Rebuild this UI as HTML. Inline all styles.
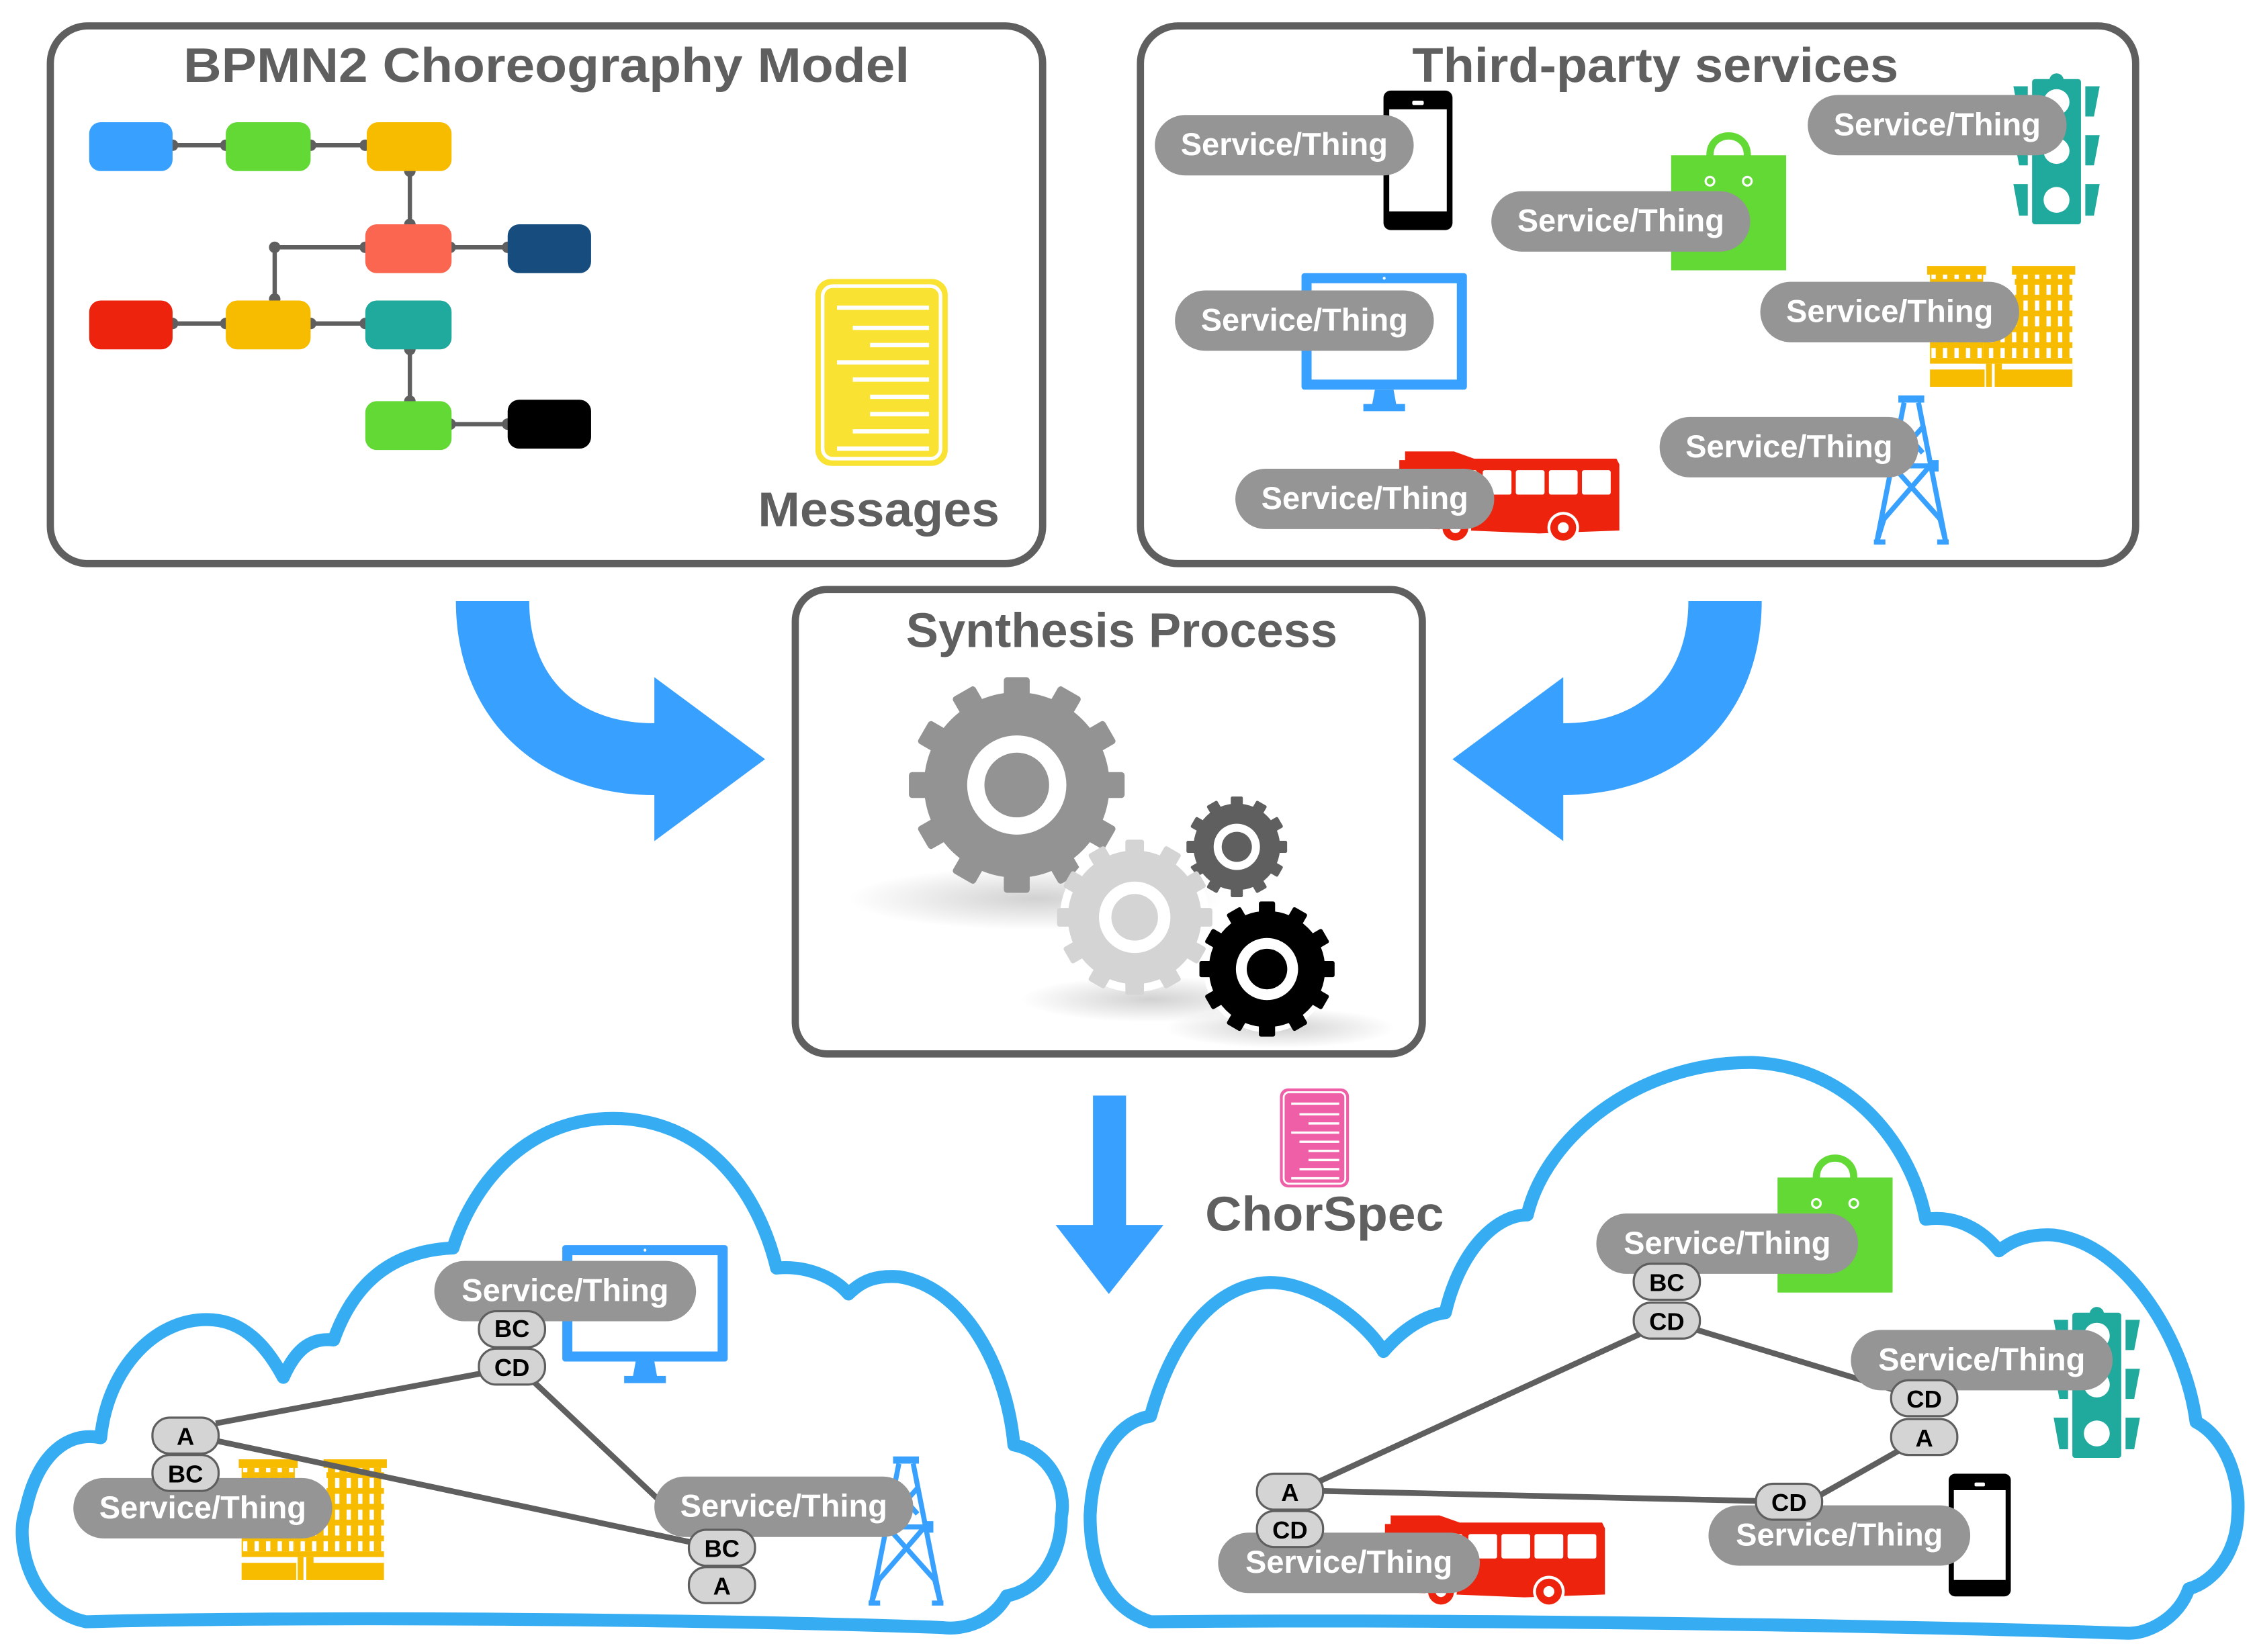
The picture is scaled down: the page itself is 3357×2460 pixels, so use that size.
<!DOCTYPE html>
<html><head><meta charset="utf-8"><style>
html,body{margin:0;padding:0;background:#fff;}
svg{display:block;}
text{font-family:"Liberation Sans",sans-serif;font-weight:bold;}
</style></head><body>
<svg width="3357" height="2460" viewBox="0 0 1568 1149" xmlns="http://www.w3.org/2000/svg">
<defs>
  <radialGradient id="sh" cx="50%" cy="50%" r="50%">
    <stop offset="0" stop-color="#000" stop-opacity="0.18"/>
    <stop offset="1" stop-color="#000" stop-opacity="0"/>
  </radialGradient>
  <g id="gear">
    <circle r="0.86"/>
    <rect x="-0.12" y="-1" width="0.24" height="0.3" rx="0.03"/>
    <rect x="-0.12" y="-1" width="0.24" height="0.3" rx="0.03" transform="rotate(30)"/>
    <rect x="-0.12" y="-1" width="0.24" height="0.3" rx="0.03" transform="rotate(60)"/>
    <rect x="-0.12" y="-1" width="0.24" height="0.3" rx="0.03" transform="rotate(90)"/>
    <rect x="-0.12" y="-1" width="0.24" height="0.3" rx="0.03" transform="rotate(120)"/>
    <rect x="-0.12" y="-1" width="0.24" height="0.3" rx="0.03" transform="rotate(150)"/>
    <rect x="-0.12" y="-1" width="0.24" height="0.3" rx="0.03" transform="rotate(180)"/>
    <rect x="-0.12" y="-1" width="0.24" height="0.3" rx="0.03" transform="rotate(210)"/>
    <rect x="-0.12" y="-1" width="0.24" height="0.3" rx="0.03" transform="rotate(240)"/>
    <rect x="-0.12" y="-1" width="0.24" height="0.3" rx="0.03" transform="rotate(270)"/>
    <rect x="-0.12" y="-1" width="0.24" height="0.3" rx="0.03" transform="rotate(300)"/>
    <rect x="-0.12" y="-1" width="0.24" height="0.3" rx="0.03" transform="rotate(330)"/>
    <circle r="0.46" fill="#fff"/>
    <circle r="0.3"/>
  </g>
  <g id="phone">
    <rect x="0" y="0" width="48" height="97" rx="5" fill="#000"/>
    <rect x="4" y="13" width="40" height="71" fill="#fff"/>
    <rect x="20" y="7" width="8" height="3" rx="1" fill="#fff"/>
  </g>
  <g id="bag">
    <rect x="0" y="16" width="80" height="80" fill="#62d934"/>
    <path d="M27,34 L27,16 C27,-2 53,-2 53,16 L53,34" fill="none" stroke="#62d934" stroke-width="5"/>
    <circle cx="27" cy="34" r="3" fill="none" stroke="#fff" stroke-width="1.5"/>
    <circle cx="53" cy="34" r="3" fill="none" stroke="#fff" stroke-width="1.5"/>
  </g>
  <g id="light" fill="#20a99d">
    <circle cx="30" cy="4" r="5"/>
    <rect x="13" y="3" width="34" height="101" rx="2"/>
    <polygon points="0,8 10,8 10,29 4,29"/>
    <polygon points="0,42 10,42 10,63 4,63"/>
    <polygon points="0,76 10,76 10,98 4,98"/>
    <polygon points="50,8 60,8 56,29 50,29"/>
    <polygon points="50,42 60,42 56,63 50,63"/>
    <polygon points="50,76 60,76 56,98 50,98"/>
    <circle cx="30" cy="19" r="9" fill="#fff"/>
    <circle cx="30" cy="53" r="9" fill="#fff"/>
    <circle cx="30" cy="87" r="9" fill="#fff"/>
  </g>
  <g id="monitor">
    <rect x="0" y="0" width="115" height="81" rx="2" fill="#38a1ff"/>
    <rect x="7" y="7" width="101" height="67" fill="#fff"/>
    <circle cx="57.5" cy="3.5" r="1" fill="#fff"/>
    <polygon points="51,81 64,81 66,92 49,92" fill="#38a1ff"/>
    <rect x="43" y="91" width="29" height="5" fill="#38a1ff"/>
  </g>
  <pattern id="win" x="0" y="0" width="8" height="11" patternUnits="userSpaceOnUse">
    <rect width="8" height="11" fill="#f7bb00"/>
    <rect x="3" y="2" width="3" height="7" fill="#fff"/>
  </pattern>
  <g id="building">
    <rect x="0" y="0" width="41" height="6" fill="#f7bb00"/>
    <rect x="2" y="6" width="37" height="58" fill="url(#win)"/>
    <rect x="59" y="0" width="44" height="6" fill="#f7bb00"/>
    <rect x="61" y="6" width="40" height="58" fill="url(#win)"/>
    <rect x="39" y="28" width="22" height="36" fill="url(#win)"/>
    <rect x="2" y="64" width="99" height="4" fill="#f7bb00"/>
    <rect x="2" y="68" width="32" height="4" fill="#fff"/>
    <rect x="2" y="72" width="38" height="12" fill="#f7bb00"/>
    <rect x="41" y="68" width="4" height="16" fill="#f7bb00"/>
    <rect x="47" y="68" width="54" height="16" fill="#f7bb00"/>
    <rect x="52" y="68" width="49" height="4" fill="#fff"/>
  </g>
  <g id="bus">
    <path d="M3,6 L7,6 L7,0 L41,0 L55,5 L154,5 L156,9 L156,55 L100,57 L3,53 Z" fill="#ee230d"/>
    <rect x="14" y="13" width="20" height="17" rx="1.5" fill="#fff"/>
    <rect x="37" y="13" width="20" height="17" rx="1.5" fill="#fff"/>
    <rect x="61" y="13" width="20" height="17" rx="1.5" fill="#fff"/>
    <rect x="84" y="13" width="20" height="17" rx="1.5" fill="#fff"/>
    <rect x="107" y="13" width="20" height="17" rx="1.5" fill="#fff"/>
    <rect x="130" y="13" width="20" height="17" rx="1.5" fill="#fff"/>
    <circle cx="42" cy="53" r="11" fill="#fff"/>
    <circle cx="42" cy="53" r="9" fill="#ee230d"/>
    <circle cx="42" cy="53" r="3.8" fill="#fff"/>
    <circle cx="117" cy="53" r="11" fill="#fff"/>
    <circle cx="117" cy="53" r="9" fill="#ee230d"/>
    <circle cx="117" cy="53" r="3.8" fill="#fff"/>
  </g>
  <g id="tower" fill="none" stroke="#38a1ff" stroke-width="3.5">
    <rect x="18" y="0" width="18" height="5" fill="#38a1ff" stroke="none"/>
    <path d="M22,5 L3,102 M32,5 L51,102"/>
    <path d="M14,49 L42,49"/>
    <rect x="40" y="45" width="6" height="8" fill="#38a1ff" stroke="none"/>
    <path d="M19,22 L35,40 M35,22 L19,40"/>
    <path d="M14,49 L47,86 M40,49 L8,86"/>
    <path d="M8,86 L3,102 M47,86 L51,102 M1,102 L9,102 M45,102 L53,102"/>
  </g>
  <g id="doc">
    <rect x="0" y="0" width="92" height="130" rx="11" fill="currentColor"/>
    <rect x="5" y="5" width="82" height="120" rx="7" fill="none" stroke="#fff" stroke-width="2.5"/>
    <g stroke="#fff" stroke-width="3">
      <path d="M15,20 H79 M26,34 H79 M38,46 H79 M15,58 H79 M26,70 H79 M38,82 H79 M38,94 H79 M26,106 H79 M15,118 H79"/>
    </g>
  </g>
</defs>

<!-- Box 1 -->
<rect x="35" y="18" width="690" height="374" rx="26" fill="#fff" stroke="#5f5f5f" stroke-width="5"/>
<text x="380" y="57" text-anchor="middle" font-size="34" fill="#5f5f5f" textLength="505" lengthAdjust="spacingAndGlyphs">BPMN2 Choreography Model</text>
<g stroke="#5f5f5f" stroke-width="3" fill="none">
  <path d="M120,101 H157 M216,101 H254 M285,118 V157 M191,172 H254 M191,172 V208 M313,172 H353 M120,225 H157 M216,225 H254 M285,243 V279 M313,295 H353"/>
</g>
<g fill="#5f5f5f">
  <circle cx="120" cy="101" r="4"/><circle cx="157" cy="101" r="4"/><circle cx="216" cy="101" r="4"/><circle cx="254" cy="101" r="4"/>
  <circle cx="285" cy="119" r="4"/><circle cx="285" cy="156" r="4"/><circle cx="191" cy="172" r="4"/><circle cx="254" cy="172" r="4"/>
  <circle cx="313" cy="172" r="4"/><circle cx="353" cy="172" r="4"/><circle cx="191" cy="208" r="4"/>
  <circle cx="120" cy="225" r="4"/><circle cx="157" cy="225" r="4"/><circle cx="216" cy="225" r="4"/><circle cx="254" cy="225" r="4"/>
  <circle cx="285" cy="243" r="4"/><circle cx="285" cy="279" r="4"/><circle cx="313" cy="295" r="4"/><circle cx="353" cy="295" r="4"/>
</g>
<rect x="62" y="85" width="58" height="34" rx="8" fill="#38a1ff"/>
<rect x="157" y="85" width="59" height="34" rx="8" fill="#62d934"/>
<rect x="255" y="85" width="59" height="34" rx="8" fill="#f7bb00"/>
<rect x="254" y="156" width="60" height="34" rx="8" fill="#fb6650"/>
<rect x="353" y="156" width="58" height="34" rx="8" fill="#164d7e"/>
<rect x="62" y="209" width="58" height="34" rx="8" fill="#ee230d"/>
<rect x="157" y="209" width="59" height="34" rx="8" fill="#f7bb00"/>
<rect x="254" y="209" width="60" height="34" rx="8" fill="#20a99d"/>
<rect x="254" y="279" width="60" height="34" rx="8" fill="#62d934"/>
<rect x="353" y="278" width="58" height="34" rx="8" fill="#000"/>
<use href="#doc" x="567" y="194" color="#f9e232"/>
<text x="611" y="366" text-anchor="middle" font-size="34" fill="#5f5f5f" textLength="168" lengthAdjust="spacingAndGlyphs">Messages</text>

<!-- Box 2 -->
<rect x="793" y="18" width="692" height="374" rx="26" fill="#fff" stroke="#5f5f5f" stroke-width="5"/>
<text x="1151" y="57" text-anchor="middle" font-size="34" fill="#5f5f5f" textLength="338" lengthAdjust="spacingAndGlyphs">Third-party services</text>
<use href="#phone" x="962" y="63"/>
<use href="#bag" x="1162" y="92"/>
<use href="#light" x="1400" y="52"/>
<use href="#monitor" x="905" y="190"/>
<use href="#building" x="1340" y="185"/>
<use href="#bus" x="970" y="314"/>
<use href="#tower" x="1302" y="275"/>
<g font-size="22" fill="#fff">
  <rect x="803" y="80" width="180" height="42" rx="21" fill="#959595"/>
  <text x="893" y="108" text-anchor="middle" textLength="144" lengthAdjust="spacingAndGlyphs">Service/Thing</text>
  <rect x="1037" y="133" width="180" height="42" rx="21" fill="#959595"/>
  <text x="1127" y="161" text-anchor="middle" textLength="144" lengthAdjust="spacingAndGlyphs">Service/Thing</text>
  <rect x="1257" y="66" width="180" height="42" rx="21" fill="#959595"/>
  <text x="1347" y="94" text-anchor="middle" textLength="144" lengthAdjust="spacingAndGlyphs">Service/Thing</text>
  <rect x="817" y="202" width="180" height="42" rx="21" fill="#959595"/>
  <text x="907" y="230" text-anchor="middle" textLength="144" lengthAdjust="spacingAndGlyphs">Service/Thing</text>
  <rect x="1224" y="196" width="180" height="42" rx="21" fill="#959595"/>
  <text x="1314" y="224" text-anchor="middle" textLength="144" lengthAdjust="spacingAndGlyphs">Service/Thing</text>
  <rect x="859" y="326" width="180" height="42" rx="21" fill="#959595"/>
  <text x="949" y="354" text-anchor="middle" textLength="144" lengthAdjust="spacingAndGlyphs">Service/Thing</text>
  <rect x="1154" y="290" width="180" height="42" rx="21" fill="#959595"/>
  <text x="1244" y="318" text-anchor="middle" textLength="144" lengthAdjust="spacingAndGlyphs">Service/Thing</text>
</g>

<!-- Curved arrows -->
<path id="carrow" d="M317,418 L368,418 C368,470 400,503 455,503 L455,471 L532,528 L455,585 L455,553 C375,553 317,500 317,418 Z" fill="#38a1ff"/>
<use href="#carrow" transform="translate(1542,0) scale(-1,1)"/>

<!-- Synthesis box -->
<rect x="553" y="410" width="436" height="323" rx="22" fill="#fff" stroke="#5f5f5f" stroke-width="5"/>
<text x="780" y="450" text-anchor="middle" font-size="34" fill="#5f5f5f" textLength="300" lengthAdjust="spacingAndGlyphs">Synthesis Process</text>
<ellipse cx="720" cy="625" rx="130" ry="22" fill="url(#sh)"/>
<ellipse cx="800" cy="695" rx="90" ry="16" fill="url(#sh)"/>
<ellipse cx="890" cy="715" rx="80" ry="14" fill="url(#sh)"/>
<use href="#gear" transform="translate(707,546) scale(75)" fill="#939393"/>
<use href="#gear" transform="translate(860,589) scale(35)" fill="#5f5f5f"/>
<circle cx="789" cy="638" r="52" fill="#fff"/>
<use href="#gear" transform="translate(789,638) scale(54)" fill="#d4d4d4"/>
<circle cx="881" cy="674" r="44" fill="#fff"/>
<use href="#gear" transform="translate(881,674) scale(47)" fill="#000"/>

<!-- Down arrow -->
<rect x="760" y="762" width="23" height="92" fill="#38a1ff"/>
<polygon points="734,852 809,852 771,900" fill="#38a1ff"/>
<use href="#doc" transform="translate(890,757) scale(0.522,0.53)" color="#ef5fa7"/>
<text x="921" y="856" text-anchor="middle" font-size="34" fill="#5f5f5f" textLength="166" lengthAdjust="spacingAndGlyphs">ChorSpec</text>

<!-- Left cloud -->
<path d="M60,1128 C20,1120 10,1070 18,1050 C25,1015 45,995 70,1000 C75,950 110,915 148,918 C175,920 190,945 197,958 C205,940 215,930 232,932 C245,895 270,870 315,868 C330,820 370,775 432,778 C500,782 530,840 540,882 C560,880 580,888 590,900 C600,890 610,887 625,888 C670,895 700,950 705,1005 C730,1010 742,1035 738,1055 C738,1080 725,1105 700,1110 C690,1128 670,1134 655,1132 C500,1126 200,1124 60,1128 Z" fill="#fff" stroke="#36adf2" stroke-width="9" stroke-linejoin="round"/>
<use href="#monitor" x="391" y="866"/>
<use href="#building" x="166" y="1015"/>
<use href="#tower" x="603" y="1013"/>
<g stroke="#5f5f5f" stroke-width="4">
  <path d="M150,990 L336,955 M150,1002 L482,1073 M370,960 L460,1045"/>
</g>
<g font-size="22" fill="#fff">
  <rect x="302" y="877" width="182" height="42" rx="21" fill="#959595"/>
  <text x="393" y="905" text-anchor="middle" textLength="144" lengthAdjust="spacingAndGlyphs">Service/Thing</text>
  <rect x="51" y="1028" width="180" height="42" rx="21" fill="#959595"/>
  <text x="141" y="1056" text-anchor="middle" textLength="144" lengthAdjust="spacingAndGlyphs">Service/Thing</text>
  <rect x="455" y="1027" width="180" height="42" rx="21" fill="#959595"/>
  <text x="545" y="1055" text-anchor="middle" textLength="144" lengthAdjust="spacingAndGlyphs">Service/Thing</text>
</g>
<g font-size="17" fill="#000" text-anchor="middle">
  <rect x="333" y="912" width="46" height="25" rx="12" fill="#d4d4d4" stroke="#5f5f5f" stroke-width="1.5"/><text x="356" y="930">BC</text>
  <rect x="333" y="938" width="46" height="25" rx="12" fill="#d4d4d4" stroke="#5f5f5f" stroke-width="1.5"/><text x="356" y="957">CD</text>
  <rect x="106" y="986" width="46" height="25" rx="12" fill="#d4d4d4" stroke="#5f5f5f" stroke-width="1.5"/><text x="129" y="1005">A</text>
  <rect x="106" y="1012" width="46" height="25" rx="12" fill="#d4d4d4" stroke="#5f5f5f" stroke-width="1.5"/><text x="129" y="1031">BC</text>
  <rect x="479" y="1064" width="46" height="25" rx="12" fill="#d4d4d4" stroke="#5f5f5f" stroke-width="1.5"/><text x="502" y="1083">BC</text>
  <rect x="479" y="1090" width="46" height="25" rx="12" fill="#d4d4d4" stroke="#5f5f5f" stroke-width="1.5"/><text x="502" y="1109">A</text>
</g>

<!-- Right cloud -->
<path d="M800,1128 C770,1118 758,1090 758,1054 C760,1010 780,988 800,985 C815,930 845,893 883,892 C915,892 950,920 962,940 C975,925 990,915 1005,913 C1015,870 1040,845 1062,845 C1075,790 1140,738 1219,739 C1290,742 1330,800 1339,848 C1360,845 1378,855 1390,870 C1400,862 1412,858 1428,859 C1480,865 1520,935 1527,989 C1548,1000 1558,1030 1556,1054 C1555,1080 1540,1100 1522,1105 C1515,1125 1495,1136 1480,1136 C1300,1130 1000,1126 800,1128 Z" fill="#fff" stroke="#36adf2" stroke-width="9" stroke-linejoin="round"/>
<use href="#bag" x="1236" y="803"/>
<use href="#light" x="1428" y="910"/>
<use href="#phone" transform="translate(1355,1025) scale(0.9,0.88)"/>
<use href="#bus" x="960" y="1054"/>
<g stroke="#5f5f5f" stroke-width="4">
  <path d="M1140,928 L918,1030 M1180,925 L1318,967 M1322,1008 L1262,1042 M918,1037 L1224,1044"/>
</g>
<g font-size="22" fill="#fff">
  <rect x="1110" y="844" width="182" height="42" rx="21" fill="#959595"/>
  <text x="1201" y="872" text-anchor="middle" textLength="144" lengthAdjust="spacingAndGlyphs">Service/Thing</text>
  <rect x="1287" y="925" width="182" height="42" rx="21" fill="#959595"/>
  <text x="1378" y="953" text-anchor="middle" textLength="144" lengthAdjust="spacingAndGlyphs">Service/Thing</text>
  <rect x="847" y="1066" width="182" height="42" rx="21" fill="#959595"/>
  <text x="938" y="1094" text-anchor="middle" textLength="144" lengthAdjust="spacingAndGlyphs">Service/Thing</text>
  <rect x="1188" y="1047" width="182" height="42" rx="21" fill="#959595"/>
  <text x="1279" y="1075" text-anchor="middle" textLength="144" lengthAdjust="spacingAndGlyphs">Service/Thing</text>
</g>
<g font-size="17" fill="#000" text-anchor="middle">
  <rect x="1136" y="879" width="46" height="25" rx="12" fill="#d4d4d4" stroke="#5f5f5f" stroke-width="1.5"/><text x="1159" y="898">BC</text>
  <rect x="1136" y="906" width="46" height="25" rx="12" fill="#d4d4d4" stroke="#5f5f5f" stroke-width="1.5"/><text x="1159" y="925">CD</text>
  <rect x="1315" y="960" width="46" height="25" rx="12" fill="#d4d4d4" stroke="#5f5f5f" stroke-width="1.5"/><text x="1338" y="979">CD</text>
  <rect x="1315" y="987" width="46" height="25" rx="12" fill="#d4d4d4" stroke="#5f5f5f" stroke-width="1.5"/><text x="1338" y="1006">A</text>
  <rect x="874" y="1025" width="46" height="25" rx="12" fill="#d4d4d4" stroke="#5f5f5f" stroke-width="1.5"/><text x="897" y="1044">A</text>
  <rect x="874" y="1051" width="46" height="25" rx="12" fill="#d4d4d4" stroke="#5f5f5f" stroke-width="1.5"/><text x="897" y="1070">CD</text>
  <rect x="1221" y="1032" width="46" height="25" rx="12" fill="#d4d4d4" stroke="#5f5f5f" stroke-width="1.5"/><text x="1244" y="1051">CD</text>
</g>
</svg>
</body></html>
